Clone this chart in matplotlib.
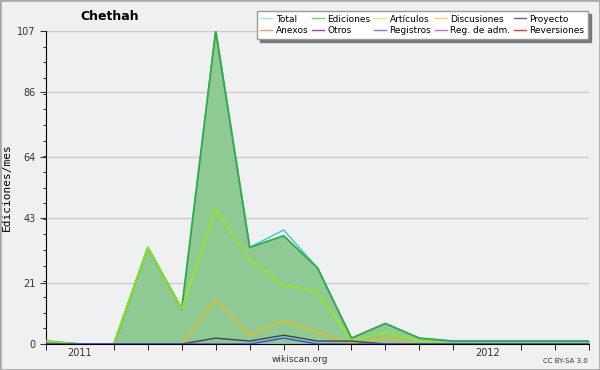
import numpy as np
import matplotlib
matplotlib.use("Agg")
import matplotlib.pyplot as plt
from matplotlib.lines import Line2D
from matplotlib.patches import Rectangle

# months Dec 2010 .. Apr 2012
months = ["2010-12", "2011-01", "2011-02", "2011-03", "2011-04", "2011-05",
          "2011-06", "2011-07", "2011-08", "2011-09", "2011-10", "2011-11",
          "2011-12", "2012-01", "2012-02", "2012-03", "2012-04"]
total = [1, 0, 0, 33, 12, 107, 33, 39, 26, 2, 7, 2, 1, 1, 1, 1, 1]
edits = [1, 0, 0, 33, 12, 107, 33, 37, 26, 2, 7, 2, 1, 1, 1, 1, 1]
articles = [1, 0, 0, 33, 12, 46, 29, 20, 18, 1, 4, 1, 0, 0, 0, 0, 0]
discussions = [0, 0, 0, 0, 0, 15, 3, 8, 4, 0, 2, 0, 0, 0, 0, 0, 0]
project = [0, 0, 0, 0, 0, 2, 1, 3, 1, 1, 0, 0, 0, 0, 0, 0, 0]
logs = [0, 0, 0, 0, 0, 0, 0, 2, 0, 0, 0, 0, 0, 0, 0, 0, 0]

yticks = [0, 21, 43, 64, 86, 107]
year_labels = {"2011-01": "2011", "2012-01": "2012"}

legend_names = ["Total", "Anexos", "Ediciones", "Otros", "Artículos", "Registros",
                "Discusiones", "Reg. de adm.", "Proyecto", "Reversiones"]
legend_colors = ["#a8e4e4", "#ff9966", "#77cc77", "#9933ff", "#ccff66", "#7777ff",
                 "#ffcc66", "#cc66ff", "#666666", "#ff3333"]

bg = "#eff0f2"
fig = plt.figure(figsize=(6, 3.7), dpi=100, facecolor="#f0f0f0")
fig.patches.append(Rectangle((0, 0), 1, 1, transform=fig.transFigure,
                             fill=False, edgecolor="#aaaaaa", linewidth=2))
ax = fig.add_axes([46 / 600, 26 / 370, 543 / 600, 313 / 370], facecolor=bg)

x = np.arange(len(months))
ax.fill_between(x, edits, color="#8fca95", zorder=1)
ax.plot(x, total, color="#33cccc", lw=1, zorder=2)
ax.plot(x, edits, color="#33aa44", lw=1.3, zorder=3)
ax.plot(x, articles, color="#99ee00", lw=1, zorder=4)
ax.plot(x, discussions, color="#eebb00", lw=1, zorder=5)
ax.plot(x, project, color="#444444", lw=1, zorder=6)
ax.plot(x, logs, color="#3344ff", lw=1, zorder=7)

ax.set_xlim(0, len(months) - 1)
ax.set_ylim(0, 107)
ax.set_yticks(yticks)
ax.set_yticks(np.linspace(0, 107, 21), minor=True)
lab_pos = [i for i, m in enumerate(months) if m in year_labels]
ax.set_xticks(lab_pos)
ax.set_xticklabels([year_labels[months[i]] for i in lab_pos])
ax.set_xticks([i for i in x if i not in lab_pos], minor=True)
ax.tick_params(axis="x", which="major", length=0, pad=3, labelsize=7, colors="#333333")
ax.tick_params(axis="x", which="minor", length=4, direction="out")
ax.tick_params(axis="y", which="major", length=4, labelsize=7, colors="#333333")
ax.tick_params(axis="y", which="minor", length=2)
ax.grid(axis="y", color="#cccccc", lw=1)
ax.set_axisbelow(True)
for s in ["top", "right"]:
    ax.spines[s].set_visible(False)
ax.set_ylabel("Ediciones/mes", family="DejaVu Sans Mono", fontsize=8)

handles = [Line2D([], [], color=c, lw=1) for c in legend_colors]
leg = ax.legend(handles, legend_names, ncol=5, loc="upper right",
                bbox_to_anchor=(0.998, 1.064), borderaxespad=0, fontsize=6.5,
                frameon=True, fancybox=False,
                shadow={"color": "#777777", "alpha": 1},
                handlelength=1.3, handletextpad=0.4, columnspacing=0.4,
                labelspacing=0.3, borderpad=0.4)
leg.get_frame().set_edgecolor("#999999")
leg.get_frame().set_facecolor("white")

fig.text(110 / 600, 1 - 17 / 370, "Chethah", fontsize=9, fontweight="bold",
         ha="center", va="center")
fig.text(300 / 600, 1 - 360 / 370, "wikiscan.org", fontsize=6.5,
         ha="center", va="center", color="#333333")
fig.text(588 / 600, 1 - 361 / 370, "CC BY-SA 3.0", fontsize=5,
         ha="right", va="center", color="#333333")

fig.savefig("out.png", dpi=100, facecolor=fig.get_facecolor())
